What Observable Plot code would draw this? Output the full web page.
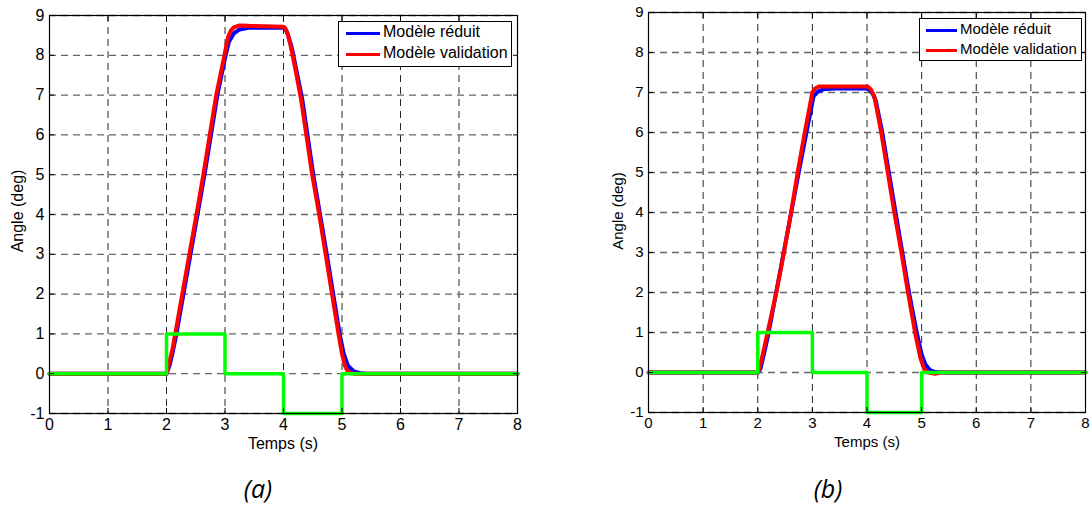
<!DOCTYPE html>
<html><head><meta charset="utf-8">
<script src="https://cdn.jsdelivr.net/npm/d3@7"></script>
<script src="https://cdn.jsdelivr.net/npm/@observablehq/plot@0.6"></script>
<style>
body{margin:0;background:#fff;width:1090px;height:506px;overflow:hidden;position:relative;font-family:"Liberation Sans",Arial,sans-serif;color:#000;}
.panel{position:absolute;top:0;}
.ylab{position:absolute;transform:translate(-50%,-50%) rotate(-90deg);white-space:nowrap;}
.xlab{position:absolute;transform:translate(-50%,0);white-space:nowrap;}
.legend{position:absolute;border:1px solid #000;background:#fff;box-sizing:border-box;}
.legend .row{position:absolute;white-space:nowrap;}
.legend .sw{position:absolute;height:3px;}
.cap{position:absolute;transform:translate(-50%,-50%);font-family:"Open Sans",sans-serif;font-style:italic;font-size:25px;white-space:nowrap;}
</style></head><body>
<script>
// ---- data ----
const xTicks = [0, 1, 2, 3, 4, 5, 6, 7, 8];
const yTicks = [-1, 0, 1, 2, 3, 4, 5, 6, 7, 8, 9];
const seriesNames = ["Modèle réduit", "Modèle validation"];
const captions = ["(a)", "(b)"];

// input step (same for both panels)
const tStep = [0, 2, 3, 4, 5, 8];
const uStep = [0, 1, 0, -1, 0, 0];

// panel (a)
const tRedA  = [0, 2.0, 2.05, 2.1, 2.15, 2.3, 2.5, 2.63, 2.74, 2.85, 2.99, 3.05, 3.1, 3.15, 3.25, 3.4, 4.0, 4.03, 4.07, 4.12, 4.19, 4.30, 4.39, 4.49, 4.61, 4.72, 4.83, 4.94, 5.0, 5.05, 5.1, 5.2, 8];
const yRedA  = [0, 0, 0.3, 0.6, 1.0, 2.25, 3.9, 5.0, 6.0, 7.0, 8.0, 8.45, 8.62, 8.7, 8.75, 8.74, 8.72, 8.68, 8.55, 8.25, 7.75, 6.9, 6.0, 5.0, 4.0, 3.0, 2.0, 1.0, 0.5, 0.2, 0.05, 0, 0];
const tBlueA = [0, 2.0, 2.05, 2.1, 2.17, 2.65, 2.87, 3.01, 3.07, 3.15, 3.25, 3.4, 4.0, 4.04, 4.08, 4.14, 4.21, 4.32, 4.51, 4.74, 4.96, 5.03, 5.1, 5.2, 5.3, 5.4, 8];
const yBlueA = [0, 0, 0.2, 0.5, 1.0, 5.0, 7.0, 8.0, 8.35, 8.55, 8.65, 8.69, 8.7, 8.64, 8.5, 8.2, 7.7, 6.9, 5.0, 3.0, 1.0, 0.5, 0.2, 0.06, 0.02, 0, 0];

// panel (b)
const tRedB  = [0, 2.0, 2.03, 2.1, 2.18, 2.34, 2.48, 2.61, 2.73, 2.86, 3.0, 3.05, 3.12, 4.0, 4.02, 4.07, 4.13, 4.2, 4.26, 4.38, 4.5, 4.63, 4.75, 4.88, 4.98, 5.05, 5.12, 5.25, 5.35, 8];
const yRedB  = [0, 0, 0.1, 0.5, 1.0, 2.0, 3.0, 4.0, 5.0, 6.0, 7.0, 7.1, 7.15, 7.15, 7.14, 7.08, 6.92, 6.45, 6.0, 5.0, 4.0, 3.0, 2.0, 1.0, 0.35, 0.08, 0, -0.03, 0, 0];
const tBlueB = [0, 2.0, 2.05, 2.12, 2.2, 2.75, 3.02, 3.1, 3.2, 3.4, 4.0, 4.04, 4.1, 4.16, 4.22, 4.28, 4.40, 4.77, 4.91, 5.0, 5.07, 5.15, 5.25, 5.35, 8];
const yBlueB = [0, 0, 0.1, 0.5, 1.0, 5.0, 6.9, 7.02, 7.08, 7.1, 7.1, 7.07, 6.98, 6.8, 6.4, 6.0, 5.0, 2.0, 1.0, 0.45, 0.2, 0.06, 0.01, 0, 0];

const zipXY = (t, y) => t.map((v, i) => ({t: v, y: y[i]}));
const fmt = d => String(d);

function panel(cfg) {
  const fs = cfg.fs + "px";
  const plot = Plot.plot({
    width: cfg.width, height: cfg.height,
    marginLeft: cfg.ml, marginRight: cfg.mr, marginTop: cfg.mt, marginBottom: cfg.mb,
    style: {fontFamily: "Liberation Sans, Arial, sans-serif", fontSize: fs, color: "#000", background: "#fff"},
    x: {domain: [0, 8]},
    y: {domain: [-1, 9]},
    marks: [
      Plot.gridX(xTicks, {stroke: "#111", strokeOpacity: 0.9, strokeDasharray: "7,5"}),
      Plot.gridY(yTicks, {stroke: "#666", strokeOpacity: 1, strokeWidth: 1.3, strokeDasharray: "7,5"}),
      Plot.line(zipXY(cfg.tBlue, cfg.yBlue), {x: "t", y: "y", stroke: "#0000ff", strokeWidth: 4, strokeLinejoin: "round"}),
      Plot.line(zipXY(cfg.tRed, cfg.yRed), {x: "t", y: "y", stroke: "#ff0000", strokeWidth: 4, strokeLinejoin: "round"}),
      Plot.line(zipXY(tStep, uStep), {x: "t", y: "y", stroke: "#00ff00", strokeWidth: 3.5, curve: "step-after"}),
      Plot.frame({stroke: "#000", strokeWidth: 1.2}),
      Plot.axisX(xTicks, {anchor: "bottom", tickSize: 0, tickPadding: 5, label: null, fontSize: fs, tickFormat: fmt}),
      Plot.axisY(yTicks, {anchor: "left", tickSize: 0, tickPadding: 5, label: null, fontSize: fs, tickFormat: fmt}),
      Plot.axisX(xTicks, {anchor: "bottom", tickSize: -5, tickFormat: () => "", label: null}),
      Plot.axisX(xTicks, {anchor: "top", tickSize: -5, tickFormat: () => "", label: null}),
      Plot.axisY(yTicks, {anchor: "left", tickSize: -5, tickFormat: () => "", label: null}),
      Plot.axisY(yTicks, {anchor: "right", tickSize: -5, tickFormat: () => "", label: null})
    ]
  });
  const wrap = document.createElement("div");
  wrap.className = "panel";
  wrap.style.left = cfg.left + "px";
  wrap.appendChild(plot);
  document.body.appendChild(wrap);

  const yl = document.createElement("div");
  yl.className = "ylab"; yl.textContent = "Angle (deg)";
  yl.style.left = cfg.ylab[0] + "px"; yl.style.top = cfg.ylab[1] + "px"; yl.style.fontSize = fs;
  document.body.appendChild(yl);

  const xl = document.createElement("div");
  xl.className = "xlab"; xl.textContent = "Temps (s)";
  xl.style.left = cfg.xlab[0] + "px"; xl.style.top = cfg.xlab[1] + "px"; xl.style.fontSize = fs;
  document.body.appendChild(xl);

  const lg = document.createElement("div");
  lg.className = "legend";
  const [bx, by, bw, bh] = cfg.legend;
  lg.style.left = bx + "px"; lg.style.top = by + "px"; lg.style.width = bw + "px"; lg.style.height = bh + "px";
  const cols = ["#0000ff", "#ff0000"];
  seriesNames.forEach((name, i) => {
    const sw = document.createElement("div");
    sw.className = "sw";
    sw.style.background = cols[i];
    sw.style.left = cfg.sw[0] + "px"; sw.style.width = cfg.sw[1] + "px";
    sw.style.top = (cfg.rows[i] - 1.5) + "px";
    lg.appendChild(sw);
    const tx = document.createElement("div");
    tx.className = "row"; tx.textContent = name;
    tx.style.left = cfg.tx + "px"; tx.style.fontSize = fs;
    tx.style.top = (cfg.rows[i] - cfg.fs * 0.58) + "px";
    tx.style.lineHeight = "1";
    lg.appendChild(tx);
  });
  document.body.appendChild(lg);

  const cp = document.createElement("div");
  cp.className = "cap"; cp.textContent = cfg.caption;
  cp.style.left = cfg.cap[0] + "px"; cp.style.top = cfg.cap[1] + "px";
  document.body.appendChild(cp);
}

panel({left: 0, width: 545, height: 460, ml: 49, mr: 28, mt: 15, mb: 47, fs: 16,
  tRed: tRedA, yRed: yRedA, tBlue: tBlueA, yBlue: yBlueA,
  ylab: [18, 211], xlab: [283, 435], legend: [338, 21, 174, 46], sw: [7, 34], rows: [11, 32], tx: 44,
  caption: captions[0], cap: [258, 488]});

panel({left: 600, width: 490, height: 460, ml: 48, mr: 5, mt: 12, mb: 48, fs: 15,
  tRed: tRedB, yRed: yRedB, tBlue: tBlueB, yBlue: yBlueB,
  ylab: [617, 211], xlab: [867, 433], legend: [919, 18, 163, 43], sw: [6, 31], rows: [11, 31], tx: 40,
  caption: captions[1], cap: [828, 488]});
</script>
</body></html>
